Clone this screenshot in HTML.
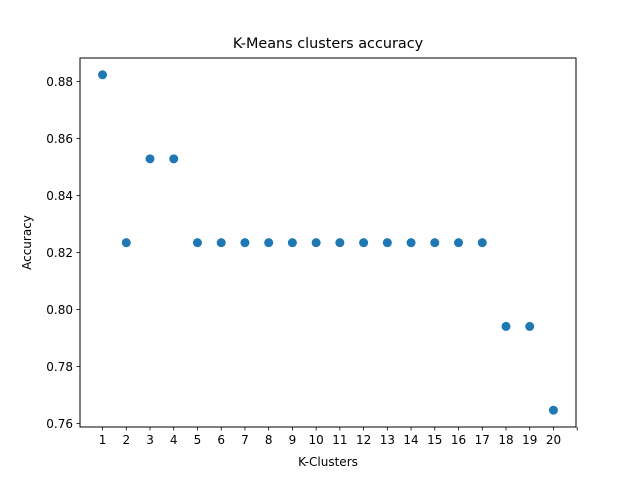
<!DOCTYPE html>
<html><head><meta charset="utf-8"><style>
body{margin:0;background:#fff;}
svg text{font-family:"DejaVu Sans","Liberation Sans",sans-serif;}
</style></head><body>
<svg id="chart" width="640" height="480" xmlns="http://www.w3.org/2000/svg">
<rect width="640" height="480" fill="#fff"/>
<text x="328" y="48" text-anchor="middle" font-size="14.4">K-Means clusters accuracy</text>
<g id="ticks"></g>
<g id="points"></g>
<rect x="80" y="58" width="496" height="369" fill="none" stroke="#000" stroke-width="1"/>
<text x="328" y="466" text-anchor="middle" font-size="12">K-Clusters</text>
<text transform="translate(31,242.5) rotate(-90)" text-anchor="middle" font-size="12">Accuracy</text>
</svg>
<script>
const categories=[1,2,3,4,5,6,7,8,9,10,11,12,13,14,15,16,17,18,19,20];
const accuracy=[0.8824,0.8235,0.8529,0.8529,0.8235,0.8235,0.8235,0.8235,0.8235,0.8235,0.8235,0.8235,0.8235,0.8235,0.8235,0.8235,0.8235,0.7941,0.7941,0.7647];
const yTicks=[0.76,0.78,0.80,0.82,0.84,0.86,0.88];
const xTicks=[1,2,3,4,5,6,7,8,9,10,11,12,13,14,15,16,17,18,19,20,21];
const ns="http://www.w3.org/2000/svg";
const L=80,R=576,T=58,B=427;
const xmin=0.05,xmax=20.95;
const ymin0=Math.min(...accuracy),ymax0=Math.max(...accuracy),m=(ymax0-ymin0)*0.05;
const ymin=ymin0-m,ymax=ymax0+m;
const xs=v=>L+(v-xmin)/(xmax-xmin)*(R-L);
const ys=v=>B-(v-ymin)/(ymax-ymin)*(B-T);
const tg=document.getElementById('ticks'),pg=document.getElementById('points');
function mk(t,a){const e=document.createElementNS(ns,t);for(const k in a)e.setAttribute(k,a[k]);return e;}
xTicks.forEach(v=>{const x=xs(v);
const l=mk('line',{x1:x,x2:x,y1:B,y2:B+3.5,stroke:'#000','stroke-width':0.8});


tg.appendChild(l);
if(v<=20){const t=mk('text',{x:x,y:B+17,'text-anchor':'middle','font-size':12});t.textContent=v;


tg.appendChild(t);}});
yTicks.forEach(v=>{const y=ys(v);
const l=mk('line',{x1:L-3.5,x2:L,y1:y,y2:y,stroke:'#000','stroke-width':0.8});


tg.appendChild(l);
const t=mk('text',{x:L-7,y:y+4.3,'text-anchor':'end','font-size':12});t.textContent=v.toFixed(2);


tg.appendChild(t);});
categories.forEach((c,i)=>{const p=mk('circle',{cx:xs(c),cy:ys(accuracy[i]),r:4.5,fill:'#1f77b4'});


pg.appendChild(p);});
</script>
</body></html>
